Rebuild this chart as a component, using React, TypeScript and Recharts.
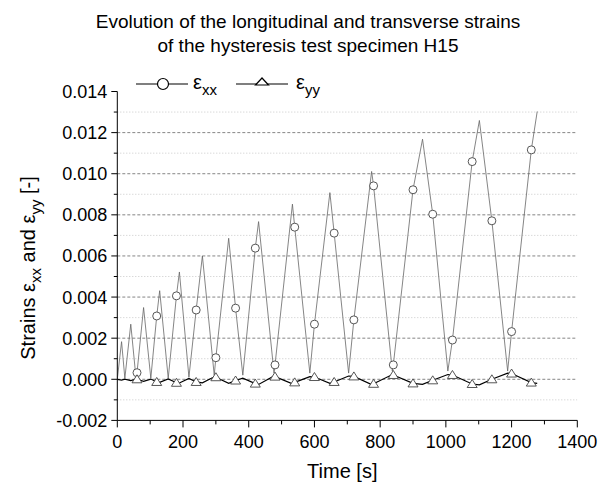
import React from 'react';
import { ComposedChart, Line, XAxis, YAxis, ReferenceLine, Legend, Label } from 'recharts';

// ---- data ----
// longitudinal strain: turning points of the triangular loading waveform
const exxVertexTime = [0, 13, 23, 41, 57, 80, 102, 129, 155, 189, 218, 259, 295, 339, 382, 430, 477, 533, 586, 647, 704, 774, 837, 929, 1006, 1102, 1188, 1278];
const exxVertexValue = [0, 0.00183, 0.00005, 0.00268, 0.00005, 0.00349, 0.00005, 0.00431, 0.00005, 0.00522, 0.0001, 0.006, 0.0002, 0.00686, 0.0002, 0.00767, 0.0003, 0.00852, 0.0003, 0.00908, 0.0003, 0.01011, 0.0004, 0.01168, 0.0004, 0.01259, 0.0004, 0.01303];
// longitudinal strain: sampled points shown with circle markers
const exxMarkerTime = [60, 120, 180, 240, 300, 360, 420, 480, 540, 600, 660, 720, 780, 840, 900, 960, 1020, 1080, 1140, 1200, 1260];
const exxMarkerValue = [0.00032, 0.00308, 0.00406, 0.00337, 0.00105, 0.00346, 0.00638, 0.0007, 0.0074, 0.00268, 0.00711, 0.00289, 0.00941, 0.0007, 0.00922, 0.00803, 0.00191, 0.01059, 0.00771, 0.00232, 0.01116];

// transverse strain: turning points
const eyyVertexTime = [0, 13, 23, 41, 57, 80, 102, 129, 155, 189, 218, 259, 295, 339, 382, 430, 477, 533, 586, 647, 704, 774, 837, 929, 1006, 1102, 1188, 1278];
const eyyVertexValue = [0, -0.00004, 0.00001, -0.00006, 0.00001, -0.0001, 0.00001, -0.00015, 0.00002, -0.00018, 0.00004, -0.00017, 0.00012, -0.0002, 0.00005, -0.00025, 0.00016, -0.00022, 0.00013, -0.0002, 0.00016, -0.00026, 0.00023, -0.00025, 0.00023, -0.00027, 0.0003, -0.0002];
// transverse strain: sampled points shown with triangle markers
const eyyMarkerTime = [60, 120, 180, 240, 300, 360, 420, 480, 540, 600, 660, 720, 780, 840, 900, 960, 1020, 1080, 1140, 1200, 1260];
const eyyMarkerValue = [0, -0.00013, -0.00017, -0.00013, 0.0001, -0.00006, -0.00021, 0.00013, -0.00015, 0.00011, -0.00013, 0.00014, -0.00022, 0.00021, -0.0002, -0.00005, 0.00021, -0.00023, 0, 0.00028, -0.00016];

const xTicks = [0, 100, 200, 300, 400, 500, 600, 700, 800, 900, 1000, 1100, 1200, 1300, 1400];
const yTicks = [-0.002, -0.001, 0, 0.001, 0.002, 0.003, 0.004, 0.005, 0.006, 0.007, 0.008, 0.009, 0.01, 0.011, 0.012, 0.013, 0.014];
const gridValues = [-0.001, 0, 0.001, 0.002, 0.003, 0.004, 0.005, 0.006, 0.007, 0.008, 0.009, 0.01, 0.011, 0.012, 0.013];

const title1 = 'Evolution of the longitudinal and transverse strains';
const title2 = 'of the hysteresis test specimen H15';

const FONT = '"Liberation Sans", Arial, Helvetica, sans-serif';

type Pt = { t: number; v: number; m: boolean };
function merge(vt: number[], vv: number[], mt: number[], mv: number[]): Pt[] {
  const pts: Pt[] = vt.map((t, i) => ({ t, v: vv[i], m: false }));
  mt.forEach((t, i) => pts.push({ t, v: mv[i], m: true }));
  pts.sort((a, b) => a.t - b.t);
  return pts;
}

const exxData = merge(exxVertexTime, exxVertexValue, exxMarkerTime, exxMarkerValue);
const eyyData = merge(eyyVertexTime, eyyVertexValue, eyyMarkerTime, eyyMarkerValue);

const isMajorY = (v: number) => Math.abs(Math.round(v * 1000)) % 2 === 0;

const YTick = (props: any) => {
  const { x, y, payload } = props;
  const v = payload.value;
  const major = isMajorY(v);
  return (
    <g>
      <line x1={x - (major ? 6 : 3.5)} y1={y} x2={x} y2={y} stroke="#000" strokeWidth={1} />
      {major && (
        <text x={x - 10} y={y + 6.5} textAnchor="end" fontSize={18} fontFamily={FONT} fill="#000">
          {v.toFixed(3)}
        </text>
      )}
    </g>
  );
};

const XTick = (props: any) => {
  const { x, y, payload } = props;
  const v = payload.value;
  const major = v % 200 === 0;
  return (
    <g>
      <line x1={x} y1={y} x2={x} y2={y + (major ? 7 : 4)} stroke="#000" strokeWidth={1} />
      {major && (
        <text x={x} y={y + 28} textAnchor="middle" fontSize={18} fontFamily={FONT} fill="#000">
          {String(v)}
        </text>
      )}
    </g>
  );
};

const CircleDot = (props: any) => {
  const { cx, cy, payload, index } = props;
  if (!payload || !payload.m) return <g key={`c${index}`} />;
  return <circle key={`c${index}`} cx={cx} cy={cy} r={4} fill="#fff" stroke="#444" strokeWidth={0.9} />;
};

const TriDot = (props: any) => {
  const { cx, cy, payload, index } = props;
  if (!payload || !payload.m) return <g key={`t${index}`} />;
  const pts = `${cx},${cy - 4.5} ${cx - 5},${cy + 3.5} ${cx + 5},${cy + 3.5}`;
  return <polygon key={`t${index}`} points={pts} fill="#fff" stroke="#444" strokeWidth={0.9} />;
};

const renderLegend = () => (
  <svg width={230} height={32} style={{ display: 'block' }}>
    <line x1={6} y1={14} x2={58} y2={14} stroke="#000" strokeWidth={1.2} />
    <circle cx={33} cy={14} r={5.5} fill="#fff" stroke="#000" strokeWidth={1.2} />
    <text x={63} y={19} fontSize={20} fontFamily={FONT}>
      ε<tspan fontSize={15} dy={6}>xx</tspan>
    </text>
    <line x1={106} y1={14} x2={158} y2={14} stroke="#000" strokeWidth={1.2} />
    <polygon points="132,8 125.5,15 138.5,15" fill="#fff" stroke="#000" strokeWidth={1.2} />
    <text x={166} y={19} fontSize={20} fontFamily={FONT}>
      ε<tspan fontSize={15} dy={6}>yy</tspan>
    </text>
  </svg>
);

const YLabel = (props: any) => {
  const vb = props.viewBox || {};
  const cx = 35;
  const cy = 268;
  return (
    <text x={cx} y={cy} transform={`rotate(-90, ${cx}, ${cy})`} textAnchor="middle" fontSize={20} fontFamily={FONT} fill="#000">
      Strains ε<tspan fontSize={15} dy={6}>xx</tspan>
      <tspan dy={-6}> and ε</tspan>
      <tspan fontSize={15} dy={6}>yy</tspan>
      <tspan dy={-6}> [-]</tspan>
    </text>
  );
};

const XLabel = (props: any) => {
  const vb = props.viewBox || { x: 0, y: 0, width: 0 };
  return (
    <text x={vb.x + vb.width / 2 - 5} y={478} textAnchor="middle" fontSize={20} fontFamily={FONT} fill="#000">
      Time [s]
    </text>
  );
};

export default function App() {
  return (
    <div style={{ position: 'absolute', left: 0, top: 0, width: 613, height: 484, background: '#fff', fontFamily: FONT }}>
      <div
        style={{
          position: 'absolute',
          left: 0,
          top: 10.4,
          width: 616,
          textAlign: 'center',
          fontSize: 19,
          lineHeight: '24px',
          color: '#000',
          fontFamily: FONT,
        }}
      >
        <div>{title1}</div>
        <div>{title2}</div>
      </div>
      <ComposedChart
        width={613}
        height={484}
        margin={{ top: 91.5, right: 35.7, bottom: 33.6, left: 0 }}
        style={{ position: 'absolute', left: 0, top: 0 }}
      >
        {gridValues.map((g) => (
          <ReferenceLine
            key={`g${g}`}
            y={g}
            stroke={isMajorY(g) ? '#777' : '#bbb'}
            strokeWidth={isMajorY(g) ? 0.9 : 0.8}
            strokeDasharray={isMajorY(g) ? '3 2' : '1 2'}
            ifOverflow="hidden"
          />
        ))}
        <XAxis
          type="number"
          dataKey="t"
          domain={[0, 1400]}
          ticks={xTicks}
          interval={0}
          tick={<XTick />}
          tickLine={false}
          tickSize={0}
          tickMargin={0}
          axisLine={{ stroke: '#000', strokeWidth: 1 }}
          height={30}
          allowDataOverflow
        >
          <Label content={<XLabel />} />
        </XAxis>
        <YAxis
          type="number"
          domain={[-0.002, 0.014]}
          ticks={yTicks}
          interval={0}
          tick={<YTick />}
          tickLine={false}
          tickSize={0}
          tickMargin={0}
          axisLine={{ stroke: '#000', strokeWidth: 1 }}
          width={117.3}
          allowDataOverflow
        >
          <Label content={<YLabel />} />
        </YAxis>
        <Legend
          layout="vertical"
          align="center"
          verticalAlign="middle"
          content={renderLegend}
          wrapperStyle={{ position: 'absolute', left: 130, top: 70, width: 230, height: 32 }}
        />
        <Line
          data={exxData}
          dataKey="v"
          name="exx"
          type="linear"
          stroke="#666"
          strokeWidth={0.8}
          dot={CircleDot}
          activeDot={false}
          isAnimationActive={false}
        />
        <Line
          data={eyyData}
          dataKey="v"
          name="eyy"
          type="linear"
          stroke="#000"
          strokeWidth={1.2}
          dot={TriDot}
          activeDot={false}
          isAnimationActive={false}
        />
      </ComposedChart>
    </div>
  );
}
